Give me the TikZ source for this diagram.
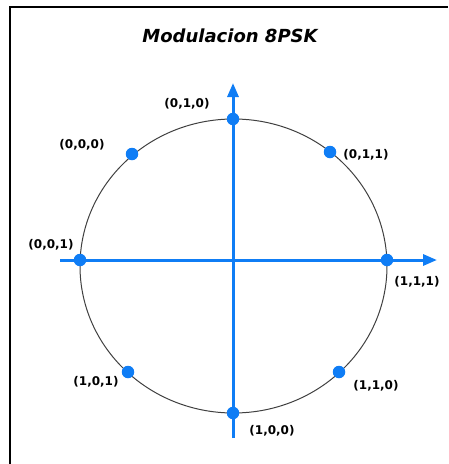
\documentclass[tikz,border=0pt]{standalone}
\usepackage{fontspec}
\setmainfont{DejaVu Sans}
\usepackage{tikz}
\usetikzlibrary{arrows.meta, shapes, positioning, calc}
\definecolor{azul}{RGB}{15,125,245}

\begin{document}
\begin{tikzpicture}[x=1pt,y=-1pt,>={Triangle[length=14pt,width=11pt]},
    punto/.style={circle, fill=azul, inner sep=0pt, minimum size=12.5pt},
    etiqueta/.style={font=\bfseries\fontsize{12}{13}\selectfont, inner sep=0pt},
    eje/.style={draw=azul, line width=3pt}]
    \useasboundingbox (0,0) rectangle (448,464);
    % marco
    \draw[line width=2pt] (10,464) -- (10,7) -- (448,7);
    \node [font=\bfseries\itshape\fontsize{18}{20}\selectfont] (titulo) at (230,36) {Modulacion 8PSK};

    \coordinate (C) at (233.5,266);
    \draw[black!75, line width=1pt] (C) ellipse [x radius=153.5, y radius=147];

    \coordinate (xa) at (60,260);
    \coordinate (xb) at (437,260);
    \coordinate (ya) at (233,438);
    \coordinate (yb) at (233,83);
    \draw[eje, ->] (xa) -- (xb);
    \draw[eje, ->] (ya) -- (yb);

    \node [punto] (P010) at (233,119) {};
    \node [punto] (P011) at (330,152) {};
    \node [punto] (P111) at (387,260) {};
    \node [punto] (P110) at (339,372) {};
    \node [punto] (P100) at (233,413) {};
    \node [punto] (P101) at (128,372) {};
    \node [punto] (P001) at (80,260) {};
    \node [punto] (P000) at (132,154) {};

    \node [etiqueta] (L010) at (187,104) {(0,1,0)};
    \node [etiqueta] (L011) at (366,155) {(0,1,1)};
    \node [etiqueta] (L111) at (417,282) {(1,1,1)};
    \node [etiqueta] (L110) at (376,386) {(1,1,0)};
    \node [etiqueta] (L100) at (272,431) {(1,0,0)};
    \node [etiqueta] (L101) at (96,382) {(1,0,1)};
    \node [etiqueta] (L001) at (51,245) {(0,0,1)};
    \node [etiqueta] (L000) at (82,145) {(0,0,0)};
\end{tikzpicture}
\end{document}
